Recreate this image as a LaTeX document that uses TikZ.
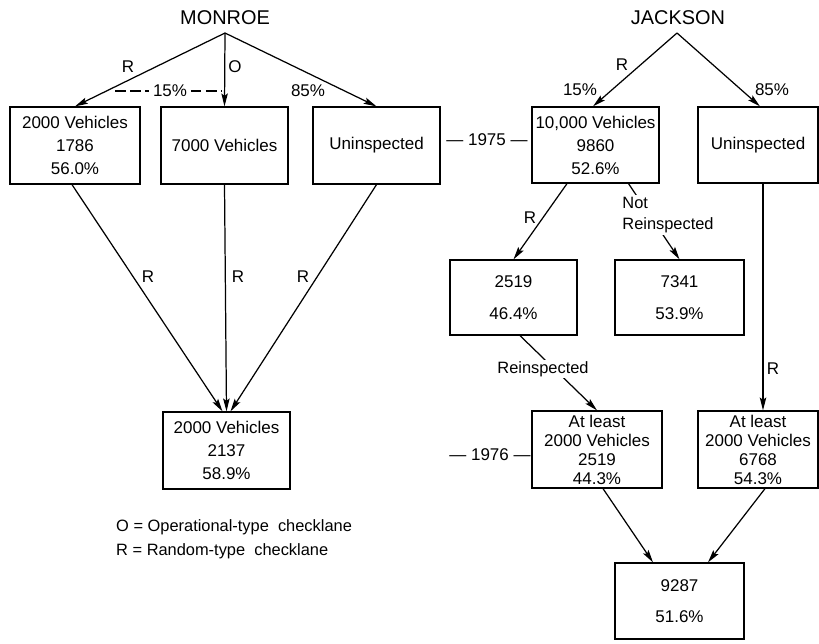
\documentclass[tikz,border=0pt]{standalone}
\usepackage{fontspec}
\setmainfont{Liberation Sans}
\usetikzlibrary{arrows.meta,calc}
\tikzset{
  txt/.style={font=\fontsize{14.5}{19.6}\selectfont, inner sep=0pt},
  box/.style n args={2}{draw, line width=1.05pt, minimum width=#1*0.03cm, minimum height=#2*0.03cm,
     inner sep=0pt, align=center, font=\fontsize{14.5}{19.6}\selectfont},
  tight/.style={font=\fontsize{14.5}{16.2}\selectfont},
  loose/.style={font=\fontsize{14.5}{27}\selectfont},
  title/.style={font=\fontsize{17}{20}\selectfont, inner sep=0pt},
  arr/.style={-{Stealth[length=11pt,width=5.5pt,inset=2pt]}, line width=1.05pt},
  plain/.style={line width=1.05pt},
  cover/.style={fill=white, inner sep=1.5pt}
}
\begin{document}
\begin{tikzpicture}[x=0.03cm,y=-0.03cm]
\useasboundingbox (0,0) rectangle (819,643);

% ---------------- MONROE ----------------
\node[title] (monroe) at (225,18) {MONROE};
\coordinate (mapex) at (225,33);
\node[box={130}{77}] (M1) at (75,145.5) {2000 Vehicles\\1786\\56.0\%};
\node[box={127}{77}] (M2) at (224.5,145.5) {7000 Vehicles};
\node[box={127}{77}] (M3) at (376.5,145.5) {Uninspected};
\node[box={127}{77}] (MF) at (226.5,450.5) {2000 Vehicles\\2137\\58.9\%};

\draw[arr] (mapex) -- (M1.north);
\draw[arr] (mapex) -- (M2.north);
\draw[arr] (mapex) -- (M3.north);
\node[txt] (mR) at (128,67) {R};
\node[txt] (mO) at (235,67) {O};
\node[txt] (m15) at (170,91) {15\%};
\node[txt] (m85) at (308,91) {85\%};
\coordinate (d1) at (115,91);
\coordinate (d4) at (222,91);
\draw[plain, dash pattern=on 9pt off 4pt] (d1) -- ([xshift=-3pt]m15.west);
\draw[plain, dash pattern=on 9pt off 4pt] ([xshift=3pt]m15.east) -- (d4);

\draw[arr] ($(M1.south)+(-3,0)$) -- ($(MF.north)+(-4,0)$);
\draw[arr] (M2.south) -- (MF.north);
\draw[arr] (M3.south) -- ($(MF.north)+(4,0)$);
\node[txt] (mR1) at (148,277) {R};
\node[txt] (mR2) at (238,277) {R};
\node[txt] (mR3) at (303,277) {R};

\node[txt, anchor=west, align=left, font=\fontsize{14}{20.4}\selectfont] (legend) at (116,539)
  {O = Operational-type\ \ checklane\\R = Random-type\ \ checklane};

% ---------------- years ----------------
\node[txt] (y75) at (487,140) {— 1975 —};
\node[txt] (y76) at (490,455) {— 1976 —};

% ---------------- JACKSON ----------------
\node[title] (jackson) at (678,18) {JACKSON};
\coordinate (japex) at (677,33);
\node[box={127}{76}] (J1) at (595.5,145) {10,000 Vehicles\\9860\\52.6\%};
\node[box={120}{76}] (J2) at (758,145) {Uninspected};
\node[box={127}{75}, loose] (J3) at (513.5,297.5) {2519\\46.4\%};
\node[box={129}{75}, loose] (J4) at (679.5,297.5) {7341\\53.9\%};
\node[box={130}{77}, tight] (J5) at (597,449.5) {At least\\2000 Vehicles\\2519\\44.3\%};
\node[box={120}{77}, tight] (J6) at (758,449.5) {At least\\2000 Vehicles\\6768\\54.3\%};
\node[box={129}{76}, loose] (J7) at (679.5,601) {9287\\51.6\%};

\draw[arr] (japex) -- ($(J1.north)+(-2.5,0)$);
\draw[arr] (japex) -- ($(J2.north)+(2,0)$);
\node[txt] (jR) at (622,65) {R};
\node[txt] (j15) at (580,90) {15\%};
\node[txt] (j85) at (772,90) {85\%};

\draw[arr] ($(J1.south)+(-28.5,0)$) -- (J3.north);
\node[txt] (jR2) at (530,218) {R};
\draw[arr] ($(J1.south)+(33,0)$) -- (J4.north);
\node[cover, align=left, font=\fontsize{14}{18}\selectfont] (notre) at (668,215) {Not\\Reinspected};

\draw[arr] ($(J3.south)+(6.5,0)$) -- (J5.north);
\node[cover, font=\fontsize{14}{18}\selectfont] (reins) at (543,369) {Reinspected};

\draw[arr] ($(J2.south)+(5,0)$) -- ($(J6.north)+(5,0)$);
\node[txt] (jR3) at (773,369) {R};

\draw[arr] ($(J5.south)+(6,0)$) -- ($(J7.north)+(-26.5,0)$);
\draw[arr] ($(J6.south)+(7,0)$) -- ($(J7.north)+(28.5,0)$);
\end{tikzpicture}
\end{document}
